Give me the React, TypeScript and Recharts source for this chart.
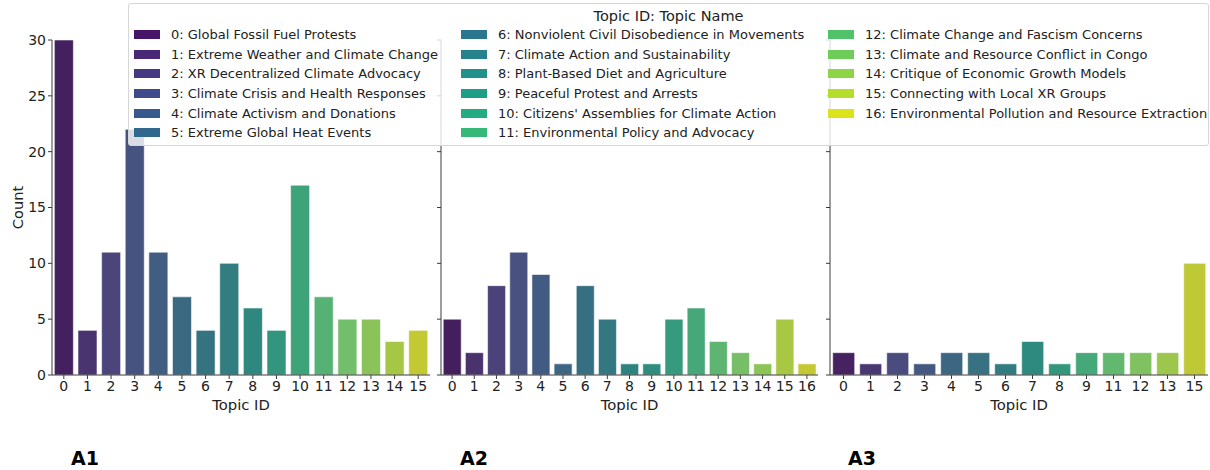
import { BarChart, Bar, XAxis, YAxis, Cell } from 'recharts';

const topicNames = [
  '0: Global Fossil Fuel Protests',
  '1: Extreme Weather and Climate Change',
  '2: XR Decentralized Climate Advocacy',
  '3: Climate Crisis and Health Responses',
  '4: Climate Activism and Donations',
  '5: Extreme Global Heat Events',
  '6: Nonviolent Civil Disobedience in Movements',
  '7: Climate Action and Sustainability',
  '8: Plant-Based Diet and Agriculture',
  '9: Peaceful Protest and Arrests',
  "10: Citizens' Assemblies for Climate Action",
  '11: Environmental Policy and Advocacy',
  '12: Climate Change and Fascism Concerns',
  '13: Climate and Resource Conflict in Congo',
  '14: Critique of Economic Growth Models',
  '15: Connecting with Local XR Groups',
  '16: Environmental Pollution and Resource Extraction',
];

const a1Topics = ['0', '1', '2', '3', '4', '5', '6', '7', '8', '9', '10', '11', '12', '13', '14', '15'];
const a1Counts = [30, 4, 11, 22, 11, 7, 4, 10, 6, 4, 17, 7, 5, 5, 3, 4];

const a2Topics = ['0', '1', '2', '3', '4', '5', '6', '7', '8', '9', '10', '11', '12', '13', '14', '15', '16'];
const a2Counts = [5, 2, 8, 11, 9, 1, 8, 5, 1, 1, 5, 6, 3, 2, 1, 5, 1];

const a3Topics = ['0', '1', '2', '3', '4', '5', '6', '7', '8', '9', '11', '12', '13', '15'];
const a3Counts = [2, 1, 2, 1, 2, 2, 1, 3, 1, 2, 2, 2, 2, 10];

const yTicks = [0, 5, 10, 15, 20, 25, 30];

// viridis stops every 0.05
const viridis = [
  '#440154', '#471365', '#482475', '#463480', '#414487', '#3b528b', '#355f8d',
  '#2f6c8e', '#2a788e', '#25848e', '#21918c', '#1e9c89', '#22a884', '#2fb47c',
  '#44bf70', '#5ec962', '#7ad151', '#95d840', '#bddf26', '#dfe318', '#fde725',
];

const FONT = "'DejaVu Sans', sans-serif";
const AXIS = '#3a3a3a';
const TEXT = '#222';

function hexToRgb(h: string) {
  return [1, 3, 5].map((i) => parseInt(h.slice(i, i + 2), 16) / 255);
}

function viridisAt(t: number) {
  const p = t * (viridis.length - 1);
  const i = Math.min(Math.floor(p), viridis.length - 2);
  const f = p - i;
  const a = hexToRgb(viridis[i]);
  const b = hexToRgb(viridis[i + 1]);
  return a.map((v, k) => v + (b[k] - v) * f);
}

function toHex(rgb: number[]) {
  return '#' + rgb.map((v) => Math.round(Math.max(0, Math.min(1, v)) * 255).toString(16).padStart(2, '0')).join('');
}

// seaborn-style desaturate: scale HLS saturation
function desaturate(rgb: number[], prop: number) {
  const [r, g, b] = rgb;
  const mx = Math.max(r, g, b);
  const mn = Math.min(r, g, b);
  const l = (mx + mn) / 2;
  if (mx === mn) return rgb;
  const d = mx - mn;
  let s = l > 0.5 ? d / (2 - mx - mn) : d / (mx + mn);
  let h = 0;
  if (mx === r) h = ((g - b) / d + (g < b ? 6 : 0)) / 6;
  else if (mx === g) h = ((b - r) / d + 2) / 6;
  else h = ((r - g) / d + 4) / 6;
  s *= prop;
  const q = l < 0.5 ? l * (1 + s) : l + s - l * s;
  const pp = 2 * l - q;
  const hue = (t: number) => {
    if (t < 0) t += 1;
    if (t > 1) t -= 1;
    if (t < 1 / 6) return pp + (q - pp) * 6 * t;
    if (t < 1 / 2) return q;
    if (t < 2 / 3) return pp + (q - pp) * (2 / 3 - t) * 6;
    return pp;
  };
  return [hue(h + 1 / 3), hue(h), hue(h - 1 / 3)];
}

function palette(n: number, sat: number) {
  const out: string[] = [];
  for (let i = 0; i < n; i++) {
    const c = viridisAt((i + 1) / (n + 1));
    out.push(toHex(sat < 1 ? desaturate(c, sat) : c));
  }
  return out;
}

const legendColors = palette(topicNames.length, 1);

interface PanelProps {
  topics: string[];
  counts: number[];
  left: number;
  width: number;
  yWidth: number;
  showYLabels: boolean;
}

function Panel({ topics, counts, left, width, yWidth, showYLabels }: PanelProps) {
  const data = topics.map((t, i) => ({ topic: t, count: counts[i] }));
  const colors = palette(data.length, 0.75);
  return (
    <div style={{ position: 'absolute', left, top: 0 }}>
      <BarChart
        width={width}
        height={470}
        data={data}
        margin={{ top: 40, right: 0, bottom: 55, left: 0 }}
        barCategoryGap="10%"
      >
        <XAxis
          dataKey="topic"
          interval={0}
          tickSize={4}
          tickMargin={2}
          height={40}
          stroke={AXIS}
          tick={{ fill: TEXT, fontSize: 14, fontFamily: FONT }}
          label={{
            content: (p: any) => {
              const vb = p.viewBox || {};
              return (
                <text
                  x={vb.x + vb.width / 2}
                  y={vb.y + 35}
                  textAnchor="middle"
                  fill={TEXT}
                  fontSize={14.8}
                  fontFamily={FONT}
                >
                  Topic ID
                </text>
              );
            },
          }}
        />
        <YAxis
          domain={[0, 30]}
          ticks={yTicks}
          width={yWidth}
          tickSize={4}
          tickMargin={2}
          stroke={AXIS}
          tick={showYLabels ? { fill: TEXT, fontSize: 14, fontFamily: FONT } : () => <g />}
          label={
            showYLabels
              ? {
                  content: (p: any) => {
                    const vb = p.viewBox || {};
                    const cy = vb.y + vb.height / 2;
                    return (
                      <text
                        x={17}
                        y={cy}
                        transform={`rotate(-90 17 ${cy})`}
                        textAnchor="middle"
                        dominantBaseline="central"
                        fill={TEXT}
                        fontSize={14.6}
                        fontFamily={FONT}
                      >
                        Count
                      </text>
                    );
                  },
                }
              : undefined
          }
        />
        <Bar dataKey="count" isAnimationActive={false} stroke="#ffffff" strokeOpacity={0.55} strokeWidth={1}>
          {data.map((d, i) => (
            <Cell key={d.topic} fill={colors[i]} />
          ))}
        </Bar>
      </BarChart>
    </div>
  );
}

const legendCols = [
  { x: 133, items: [0, 1, 2, 3, 4, 5] },
  { x: 460, items: [6, 7, 8, 9, 10, 11] },
  { x: 827, items: [12, 13, 14, 15, 16] },
];

function TopicLegend() {
  return (
    <div
      style={{
        position: 'absolute',
        left: 128,
        top: 3,
        width: 1081,
        height: 143,
        boxSizing: 'border-box',
        background: 'rgba(255,255,255,0.8)',
        border: '1px solid #d6d6d6',
        borderRadius: 3,
        fontFamily: FONT,
        color: TEXT,
      }}
    >
      <div
        style={{
          position: 'absolute',
          left: 0,
          width: '100%',
          top: 2,
          textAlign: 'center',
          fontSize: 14.5,
          lineHeight: '20px',
        }}
      >
        Topic ID: Topic Name
      </div>
      {legendCols.map((col) =>
        col.items.map((id, r) => (
          <div
            key={id}
            style={{
              position: 'absolute',
              left: col.x - 128,
              top: 33.5 + r * 19.66 - 10 - 3,
              height: 20,
              display: 'flex',
              alignItems: 'center',
              whiteSpace: 'nowrap',
              fontSize: 13,
            }}
          >
            <span style={{ display: 'inline-block', width: 26, height: 9, background: legendColors[id], marginRight: 11 }} />
            <span>{topicNames[id]}</span>
          </div>
        )),
      )}
    </div>
  );
}

const panelTags = [
  { label: 'A1', x: 71 },
  { label: 'A2', x: 460 },
  { label: 'A3', x: 848 },
];

export default function App() {
  return (
    <div
      style={{
        position: 'absolute',
        left: 0,
        top: 0,
        width: 1210,
        height: 470,
        background: '#fff',
        overflow: 'hidden',
        fontFamily: FONT,
      }}
    >
      <Panel topics={a1Topics} counts={a1Counts} left={0} width={430} yWidth={52} showYLabels />
      <Panel topics={a2Topics} counts={a2Counts} left={431} width={387} yWidth={10} showYLabels={false} />
      <Panel topics={a3Topics} counts={a3Counts} left={820} width={388} yWidth={10} showYLabels={false} />
      <TopicLegend />
      {panelTags.map((t) => (
        <div
          key={t.label}
          style={{
            position: 'absolute',
            left: t.x,
            top: 446,
            fontSize: 19,
            fontWeight: 'bold',
            lineHeight: '24px',
            color: '#000',
          }}
        >
          {t.label}
        </div>
      ))}
    </div>
  );
}
